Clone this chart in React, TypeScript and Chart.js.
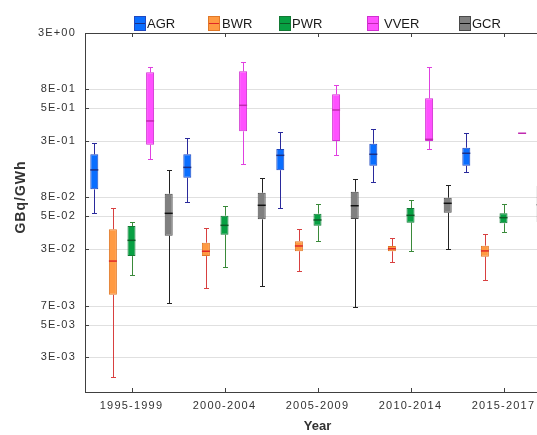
import React, { useEffect, useRef } from 'react';
import { Chart, registerables } from 'chart.js';

Chart.register(...registerables);

// ---------- data ----------
const categories = ['1995-1999', '2000-2004', '2005-2009', '2010-2014', '2015-2017'];

const agrMax = [0.286, 0.322, 0.363, 0.388, 0.354];
const agrQ3 = [0.226, 0.226, 0.253, 0.283, 0.26];
const agrMed = [0.162, 0.171, 0.221, 0.226, 0.231];
const agrQ1 = [0.107, 0.137, 0.161, 0.177, 0.177];
const agrMin = [0.065, 0.081, 0.072, 0.124, 0.154];

const bwrMax = [0.0724, 0.0469, 0.046, 0.0379, 0.041];
const bwrQ3 = [0.0457, 0.0343, 0.0354, 0.032, 0.0322];
const bwrMed = [0.0232, 0.0286, 0.032, 0.0302, 0.0288];
const bwrQ1 = [0.0113, 0.0258, 0.0286, 0.0286, 0.0255];
const bwrMin = [0.00196, 0.0131, 0.0187, 0.0226, 0.0155];

const pwrMax = [0.0537, 0.0755, 0.0788, 0.0847, 0.0778];
const pwrQ3 = [0.049, 0.061, 0.0637, 0.0719, 0.0642];
const pwrMed = [0.0361, 0.0497, 0.0557, 0.0615, 0.0585];
const pwrQ1 = [0.0258, 0.0407, 0.0493, 0.0526, 0.0519];
const pwrMin = [0.0172, 0.0204, 0.0354, 0.0286, 0.0428];

const vverMax = [1.444, 1.607, 0.984, 1.444, 0.354];
const vverQ3 = [1.298, 1.326, 0.812, 0.746, 0.354];
const vverMed = [0.46, 0.642, 0.581, 0.311, 0.354];
const vverQ1 = [0.277, 0.369, 0.3, 0.3, 0.354];
const vverMin = [0.204, 0.185, 0.224, 0.253, 0.354];

const gcrMax = [0.162, 0.137, 0.133, 0.118, 0.162];
const gcrQ3 = [0.0975, 0.0996, 0.1018, 0.0896, 0.115];
const gcrMed = [0.0642, 0.0762, 0.0755, 0.0795, 0.0772];
const gcrQ1 = [0.0398, 0.0565, 0.0569, 0.065, 0.0533];
const gcrMin = [0.00955, 0.0136, 0.00871, 0.0298, 0.0295];

// y axis: tick positions (as drawn) and their printed labels
const yTickValues = [3, 0.909, 0.6063, 0.3, 0.0909, 0.06063, 0.03, 0.0089, 0.00593, 0.003];
const yTickLabels = ['3E+00', '8E-01', '5E-01', '3E-01', '8E-02', '5E-02', '3E-02', '7E-03', '5E-03', '3E-03'];
const yMin = 0.001423;
const yMax = 3;

const yTitle = 'GBq/GWh';
const xTitle = 'Year';

// ---------- styles ----------
const series = [
  { label: 'AGR', min: agrMin, q1: agrQ1, med: agrMed, q3: agrQ3, max: agrMax, fill: '#0a6eff', border: '#2048c0', whisker: '#2a2a9c', median: '#1c2f86' },
  { label: 'BWR', min: bwrMin, q1: bwrQ1, med: bwrMed, q3: bwrQ3, max: bwrMax, fill: '#ff9a42', border: '#e07828', whisker: '#d84040', median: '#e02828' },
  { label: 'PWR', min: pwrMin, q1: pwrQ1, med: pwrMed, q3: pwrQ3, max: pwrMax, fill: '#08a043', border: '#137a35', whisker: '#3a8a3a', median: '#0d5a25' },
  { label: 'VVER', min: vverMin, q1: vverQ1, med: vverMed, q3: vverQ3, max: vverMax, fill: '#ff50ff', border: '#d030d0', whisker: '#e040e0', median: '#c02ab0' },
  { label: 'GCR', min: gcrMin, q1: gcrQ1, med: gcrMed, q3: gcrQ3, max: gcrMax, fill: '#808080', border: '#4a4a4a', whisker: '#222222', median: '#111111' },
];

const legendBoxX = [134, 208, 279, 367, 459];
const legendTextX = [147, 222, 292, 384, 472];

const FONT = '"Liberation Sans", Arial, sans-serif';
const CANVAS_W = 560;
const CANVAS_H = 435;

const boxPlugin = {
  id: 'boxParts',
  beforeDraw(chart: any) {
    chart.ctx.letterSpacing = '1.2px';
  },
  beforeDatasetsDraw(chart: any) {
    const ctx = chart.ctx;
    const y = chart.scales.y;
    ctx.save();
    ctx.lineWidth = 1;
    series.forEach((s, di) => {
      const meta = chart.getDatasetMeta(di);
      meta.data.forEach((bar: any, i: number) => {
        const cx = Math.round(bar.x) + 0.5;
        const pMax = Math.round(y.getPixelForValue(s.max[i])) + 0.5;
        const pQ3 = y.getPixelForValue(s.q3[i]);
        const pQ1 = y.getPixelForValue(s.q1[i]);
        const pMin = Math.round(y.getPixelForValue(s.min[i])) + 0.5;
        ctx.strokeStyle = s.whisker;
        ctx.beginPath();
        ctx.moveTo(cx, pMax);
        ctx.lineTo(cx, pQ3);
        ctx.moveTo(cx, pQ1);
        ctx.lineTo(cx, pMin);
        ctx.moveTo(cx - 2.5, pMax);
        ctx.lineTo(cx + 2.5, pMax);
        ctx.moveTo(cx - 2.5, pMin);
        ctx.lineTo(cx + 2.5, pMin);
        ctx.stroke();
      });
    });
    ctx.restore();
  },
  afterDatasetsDraw(chart: any) {
    const ctx = chart.ctx;
    const y = chart.scales.y;
    ctx.save();
    ctx.lineWidth = 1.5;
    series.forEach((s, di) => {
      const meta = chart.getDatasetMeta(di);
      meta.data.forEach((bar: any, i: number) => {
        const pm = y.getPixelForValue(s.med[i]);
        const hw = bar.width / 2;
        ctx.strokeStyle = s.median;
        ctx.beginPath();
        ctx.moveTo(bar.x - hw, pm);
        ctx.lineTo(bar.x + hw, pm);
        ctx.stroke();
      });
    });
    ctx.restore();
  },
  afterDraw(chart: any) {
    const ctx = chart.ctx;
    const { left, right, top, bottom } = chart.chartArea;
    const x = chart.scales.x;
    const y = chart.scales.y;
    ctx.save();
    ctx.letterSpacing = '0px';
    // top frame line
    ctx.strokeStyle = '#404040';
    ctx.lineWidth = 1;
    ctx.beginPath();
    ctx.moveTo(left, Math.round(top) + 0.5);
    ctx.lineTo(right, Math.round(top) + 0.5);
    ctx.stroke();
    // inward tick marks
    ctx.beginPath();
    y.ticks.forEach((t: any) => {
      const py = Math.round(y.getPixelForValue(t.value)) + 0.5;
      ctx.moveTo(left, py);
      ctx.lineTo(left + 4, py);
    });
    x.ticks.forEach((_t: any, i: number) => {
      const px = Math.round(x.getPixelForTick(i)) + 0.5;
      ctx.moveTo(px, bottom);
      ctx.lineTo(px, bottom - 4);
      ctx.moveTo(px, top);
      ctx.lineTo(px, top + 4);
    });
    ctx.stroke();

    // axis titles
    ctx.fillStyle = '#333333';
    ctx.textAlign = 'center';
    ctx.textBaseline = 'middle';
    ctx.font = `bold 13px ${FONT}`;
    ctx.fillText(xTitle, (left + right) / 2, 426);
    ctx.save();
    ctx.translate(21, 197);
    ctx.rotate(-Math.PI / 2);
    ctx.letterSpacing = '1px';
    ctx.font = `bold 14px ${FONT}`;
    ctx.fillText(yTitle, 0, 0);
    ctx.restore();

    // legend
    ctx.font = `13px ${FONT}`;
    ctx.textAlign = 'left';
    ctx.textBaseline = 'middle';
    series.forEach((s, k) => {
      const bx = legendBoxX[k];
      ctx.fillStyle = s.fill;
      ctx.fillRect(bx, 16, 12, 15);
      ctx.strokeStyle = s.border;
      ctx.lineWidth = 1;
      ctx.strokeRect(bx + 0.5, 16.5, 11, 14);
      ctx.strokeStyle = s.median;
      ctx.beginPath();
      ctx.moveTo(bx + 1, 23.5);
      ctx.lineTo(bx + 11, 23.5);
      ctx.stroke();
      ctx.fillStyle = '#1a1a1a';
      ctx.fillText(s.label, legendTextX[k], 24);
    });
    ctx.restore();
  },
};

export default function App() {
  const canvasRef = useRef<HTMLCanvasElement | null>(null);

  useEffect(() => {
    const canvas = canvasRef.current;
    if (!canvas) return;
    const chart = new Chart(canvas, {
      type: 'bar',
      data: {
        labels: categories,
        datasets: series.map((s) => ({
          label: s.label,
          data: s.q1.map((v, i) => [v, s.q3[i]]),
          backgroundColor: s.fill,
          borderColor: s.border,
          borderWidth: 1,
          borderSkipped: false,
          categoryPercentage: 1,
          barPercentage: 0.43,
        })),
      } as any,
      options: {
        responsive: false,
        maintainAspectRatio: false,
        animation: false,
        devicePixelRatio: 1,
        layout: { padding: { top: 33, right: CANVAS_W - 550, left: 0, bottom: 0 } },
        plugins: {
          legend: { display: false },
          tooltip: { enabled: false },
          title: { display: false },
        },
        scales: {
          x: {
            type: 'category',
            offset: true,
            grid: { display: false, drawTicks: false },
            border: { display: true, color: '#404040', width: 1 },
            ticks: {
              color: '#333333',
              font: { family: FONT, size: 11 },
              padding: 7,
              maxRotation: 0,
              autoSkip: false,
            },
            afterFit: (scale: any) => {
              scale.height = 43;
            },
          },
          y: {
            type: 'logarithmic',
            min: yMin,
            max: yMax,
            bounds: 'data',
            stacked: false,
            afterBuildTicks: (scale: any) => {
              scale.ticks = yTickValues.map((v) => ({ value: v }));
            },
            grid: { color: '#e0e0e0', drawTicks: false },
            border: { display: true, color: '#404040', width: 1 },
            ticks: {
              color: '#333333',
              font: { family: FONT, size: 11 },
              padding: 9,
              autoSkip: false,
              callback: (_v: any, idx: number) => yTickLabels[idx],
            },
            afterFit: (scale: any) => {
              scale.width = 85;
            },
          },
        },
      } as any,
      plugins: [boxPlugin],
    });
    return () => chart.destroy();
  }, []);

  return (
    <div
      style={{
        position: 'fixed',
        left: 0,
        top: 0,
        width: 537,
        height: 435,
        overflow: 'hidden',
        background: '#ffffff',
      }}
    >
      <canvas
        ref={canvasRef}
        width={CANVAS_W}
        height={CANVAS_H}
        style={{ display: 'block', width: CANVAS_W, height: CANVAS_H }}
      />
    </div>
  );
}
